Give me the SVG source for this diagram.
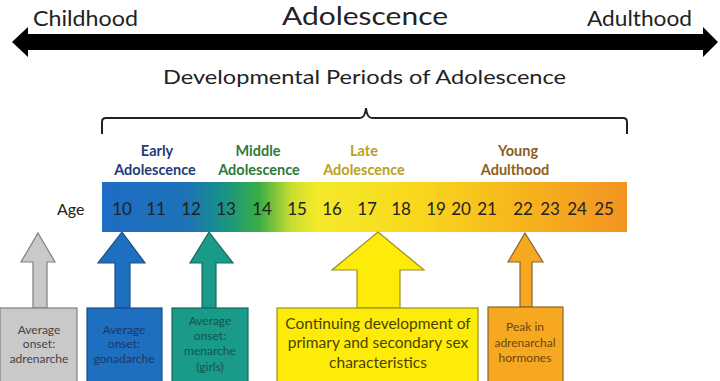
<svg xmlns="http://www.w3.org/2000/svg" width="720" height="381" viewBox="0 0 720 381">
<defs>
<linearGradient id="bar" x1="102" y1="0" x2="627" y2="0" gradientUnits="userSpaceOnUse">
<stop offset="0" stop-color="#1f6cc4"/>
<stop offset="0.16" stop-color="#1d72b8"/>
<stop offset="0.23" stop-color="#179287"/>
<stop offset="0.3" stop-color="#3aae43"/>
<stop offset="0.36" stop-color="#c8dc30"/>
<stop offset="0.41" stop-color="#f4ea2a"/>
<stop offset="0.6" stop-color="#f9d81c"/>
<stop offset="0.8" stop-color="#f6b41c"/>
<stop offset="1" stop-color="#f39322"/>
</linearGradient>
<style>
text{font-family:Lato,"Open Sans","Liberation Sans",Arial,sans-serif;}
.hdr{font-size:22px;fill:#222;}
.num{font-size:17px;fill:#222;text-anchor:middle;}
.per{font-size:14.5px;font-weight:bold;text-anchor:middle;}
.box{font-size:12px;text-anchor:middle;}
.yel{font-size:15.5px;text-anchor:middle;fill:#4c4200;}
</style>
</defs>
<g id="timeline">
<polygon points="12,42 28,27 28,34 703,34 703,27 718,42 703,57 703,50 28,50 28,57" fill="#000"/>
<text x="33" y="26" class="hdr" textLength="105" lengthAdjust="spacingAndGlyphs">Childhood</text>
<text x="282" y="25" fill="#222" style="font-size:25px" textLength="166" lengthAdjust="spacingAndGlyphs">Adolescence</text>
<text x="587" y="26" class="hdr" textLength="105" lengthAdjust="spacingAndGlyphs">Adulthood</text>
</g>
<g id="title">
<text x="163" y="84" class="hdr" style="font-size:20px" textLength="403" lengthAdjust="spacingAndGlyphs">Developmental Periods of Adolescence</text>
<path d="M102,134 L102,122 Q102,118 106,118 L360,118 Q365,118 366,108 Q367,118 372,118 L623,118 Q627,118 627,122 L627,134" fill="none" stroke="#222" stroke-width="2"/>
</g>
<g id="periods">
<text x="157" y="156" class="per" fill="#1f3d78">Early</text>
<text x="155" y="175" class="per" fill="#1f3d78">Adolescence</text>
<text x="258" y="156" class="per" fill="#2c7a3a">Middle</text>
<text x="259" y="175" class="per" fill="#2c7a3a">Adolescence</text>
<text x="364" y="156" class="per" fill="#b9a224">Late</text>
<text x="364" y="175" class="per" fill="#b9a224">Adolescence</text>
<text x="518" y="156" class="per" fill="#8e5d22">Young</text>
<text x="515" y="175" class="per" fill="#8e5d22">Adulthood</text>
</g>
<g id="age-bar">
<text x="57" y="215" style="font-size:16px" fill="#222">Age</text>
<rect x="102" y="182" width="525" height="50" fill="url(#bar)"/>
<text class="num" y="215" x="122">10</text>
<text class="num" y="215" x="156">11</text>
<text class="num" y="215" x="191">12</text>
<text class="num" y="215" x="226">13</text>
<text class="num" y="215" x="262">14</text>
<text class="num" y="215" x="297">15</text>
<text class="num" y="215" x="332">16</text>
<text class="num" y="215" x="367">17</text>
<text class="num" y="215" x="401">18</text>
<text class="num" y="215" x="436">19</text>
<text class="num" y="215" x="461">20</text>
<text class="num" y="215" x="487">21</text>
<text class="num" y="215" x="523">22</text>
<text class="num" y="215" x="550">23</text>
<text class="num" y="215" x="577">24</text>
<text class="num" y="215" x="604">25</text>
</g>
<g id="connectors">
<polygon points="38,233 55,262 47,262 47,308 33,308 33,262 21,262" fill="#c9c9c9" stroke="#7f7f7f" stroke-width="1.2"/>
<polygon points="122,232 145,263 130,263 130,308 115,308 115,263 98,263" fill="#1f6fc1" stroke="#1a4d86" stroke-width="1.2"/>
<polygon points="209,232 233,263 216,263 216,308 202,308 202,263 190,263" fill="#1a9a88" stroke="#146a60" stroke-width="1.2"/>
<polygon points="378,232 424,270 400,270 400,308 357,308 357,270 332,270" fill="#fdec0a" stroke="#9c8e22" stroke-width="1.2"/>
<polygon points="525,233 543,262 532,262 532,307 520,307 520,262 508,262" fill="#f6a821" stroke="#87652a" stroke-width="1.2"/>
</g>
<g id="adrenarche">
<rect x="0" y="308" width="77" height="75" fill="#c9c9c9" stroke="#7f7f7f" stroke-width="1.2"/>
<text class="box" fill="#444" x="39" y="334">Average</text>
<text class="box" fill="#444" x="39" y="348">onset:</text>
<text class="box" fill="#444" x="39" y="363">adrenarche</text>
</g>
<g id="gonadarche">
<rect x="87" y="308" width="75" height="75" fill="#1f6fc1" stroke="#1a4d86" stroke-width="1.2"/>
<text class="box" fill="#1b3763" x="124" y="334">Average</text>
<text class="box" fill="#1b3763" x="124" y="348">onset:</text>
<text class="box" fill="#1b3763" x="124" y="363">gonadarche</text>
</g>
<g id="menarche">
<rect x="172" y="308" width="76" height="75" fill="#1a9a88" stroke="#146a60" stroke-width="1.2"/>
<text class="box" fill="#14554c" x="210" y="325">Average</text>
<text class="box" fill="#14554c" x="210" y="340">onset:</text>
<text class="box" fill="#14554c" x="210" y="355">menarche</text>
<text class="box" fill="#14554c" x="210" y="371">(girls)</text>
</g>
<g id="sex-characteristics">
<rect x="277" y="308" width="201" height="75" fill="#fdec0a" stroke="#9c8e22" stroke-width="1.2"/>
<text x="378" y="329" class="yel">Continuing development of</text>
<text x="378" y="348" class="yel">primary and secondary sex</text>
<text x="378" y="368" class="yel">characteristics</text>
</g>
<g id="adrenarchal">
<rect x="488" y="307" width="75" height="76" fill="#f6a821" stroke="#87652a" stroke-width="1.2"/>
<text class="box" fill="#6b4512" x="525" y="331">Peak in</text>
<text class="box" fill="#6b4512" x="525" y="347">adrenarchal</text>
<text class="box" fill="#6b4512" x="525" y="362">hormones</text>
</g>
</svg>
